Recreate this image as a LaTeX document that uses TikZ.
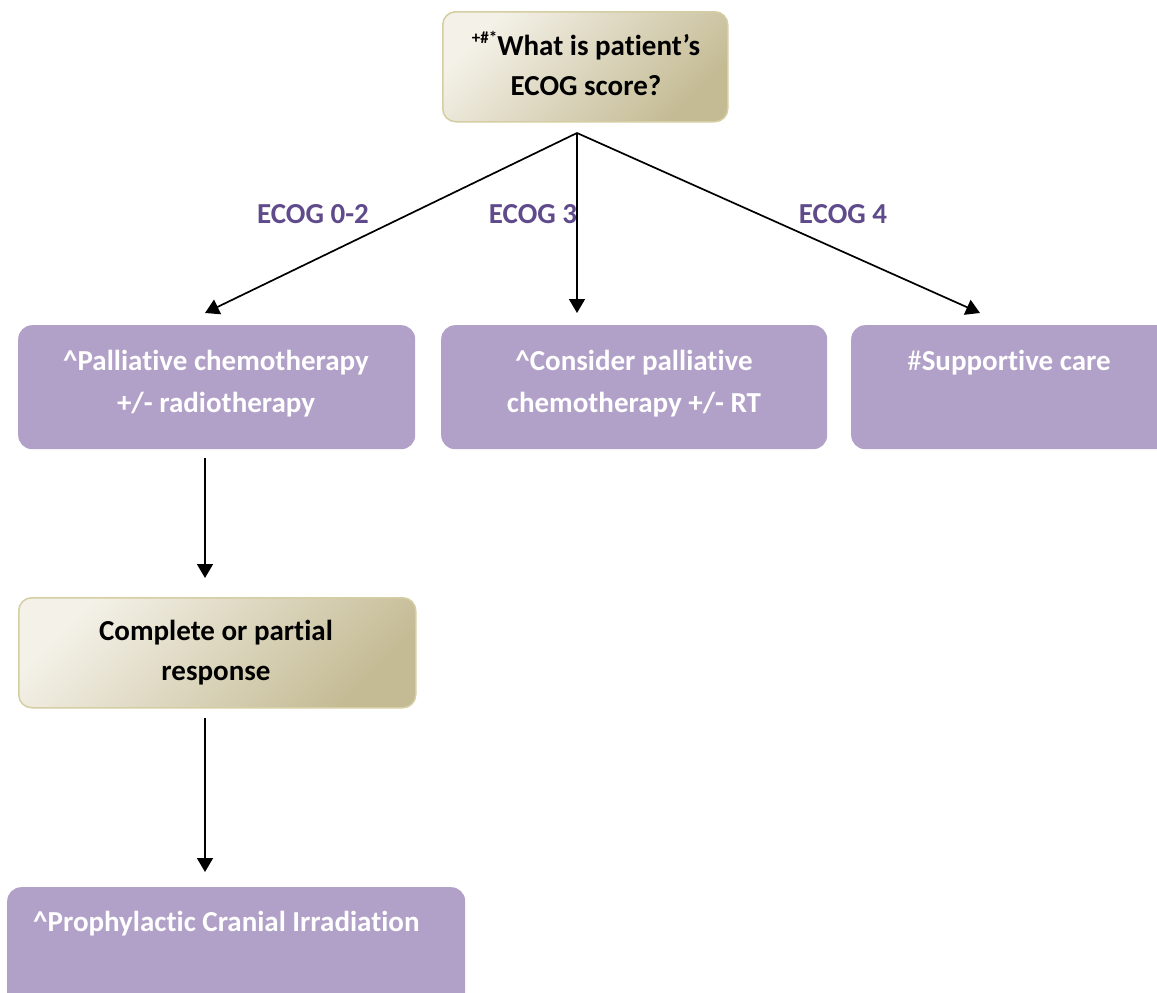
\documentclass[tikz,border=0pt]{standalone}
\usepackage{fontspec}
\setmainfont{Carlito}[Ligatures={NoCommon}]
\usetikzlibrary{arrows.meta}
\definecolor{tanlight}{HTML}{F4F1E8}
\definecolor{tandark}{HTML}{C4BB94}
\definecolor{tanborder}{HTML}{D5CDA3}
\definecolor{purplebox}{HTML}{B1A0C7}
\definecolor{ecogtext}{HTML}{5F4B8B}
\tikzset{
  tanbox/.style={draw=tanborder, line width=1.5pt, rounded corners=13pt, top color=tanlight, bottom color=tandark, shading angle=45, anchor=north west, inner sep=0pt},
  purpbox/.style={fill=purplebox, draw=none, rounded corners=14pt, anchor=north west, inner sep=0pt},
  wtext/.style={text=white, font=\fontsize{29}{42}\selectfont\bfseries, align=center, inner sep=0pt, anchor=base},
  btext/.style={text=black, font=\fontsize{29}{40}\selectfont\bfseries, align=center, inner sep=0pt, anchor=base},
  ecog/.style={text=ecogtext, font=\fontsize{29}{30}\selectfont\bfseries, inner sep=0pt, anchor=base},
  arr/.style={line width=1.7pt, -{Triangle[width=16pt,length=14pt]}}
}
\begin{document}
\begin{tikzpicture}[x=1pt,y=-1pt]
\useasboundingbox (0,0) rectangle (1157,993);
\clip (0,0) rectangle (1157,993);
% boxes
\node[tanbox, minimum width=285pt, minimum height=110pt] (top) at (442,11) {};
\node[btext] at (586,95) {\raisebox{0.4em}{\fontsize{17}{17}\selectfont +\#*}What is patient’s\\ECOG score?};
\node[purpbox, minimum width=397pt, minimum height=124pt] (a) at (18,325) {};
\node[wtext] at (216,412) {\textasciicircum Palliative chemotherapy\\+/- radiotherapy};
\node[purpbox, minimum width=386pt, minimum height=124pt] (b) at (441,325) {};
\node[wtext] at (634,412) {\textasciicircum Consider palliative\\chemotherapy +/- RT};
\node[purpbox, minimum width=330pt, minimum height=124pt] (c) at (851,325) {};
\node[wtext] at (1009,370) {{\mdseries\#}Supportive care};
\node[tanbox, minimum width=397pt, minimum height=110pt] (d) at (18,597) {};
\node[btext] at (216,680) {Complete or partial\\response};
\node[purpbox, minimum width=458pt, minimum height=130pt] (e) at (7,887) {};
\node[wtext, anchor=base west] at (33,931) {\textasciicircum Prophylactic Cranial Irradiation};
% connector points
\coordinate (split) at (577,133);
\coordinate (ta) at (205,313);
\coordinate (tb) at (577,313);
\coordinate (tc) at (980,313);
\coordinate (fa) at (205,458);
\coordinate (td) at (205,578);
\coordinate (fd) at (205,718);
\coordinate (te) at (205,872);
\draw[arr] (split) -- (ta);
\draw[arr] (split) -- (tb);
\draw[arr] (split) -- (tc);
\draw[arr] (fa) -- (td);
\draw[arr] (fd) -- (te);
% labels
\node[ecog] (l1) at (313,223) {ECOG 0-2};
\node[ecog] (l2) at (533,223) {ECOG 3};
\node[ecog] (l3) at (843,223) {ECOG 4};
\end{tikzpicture}
\end{document}
